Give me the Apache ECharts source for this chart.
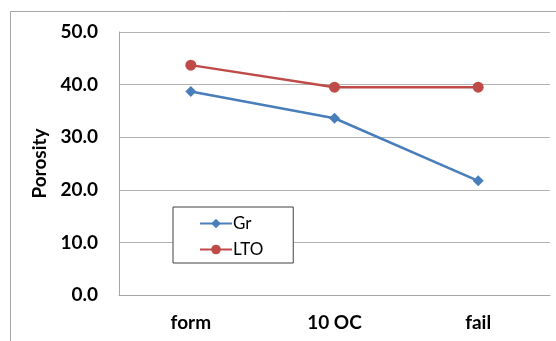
<!DOCTYPE html>
<html>
<head>
<meta charset="utf-8">
<script src="https://cdn.jsdelivr.net/npm/echarts@6/dist/echarts.min.js"></script>
<style>
  html, body { margin: 0; padding: 0; background: #fff; }
  #chart { width: 556px; height: 341px; }
</style>
</head>
<body>
<div id="chart"></div>
<script>
// Porosity by cell state
const categories = ['form', '10 OC', 'fail'];
const grValues = [38.7, 33.6, 21.7];
const ltoValues = [43.7, 39.5, 39.5];
const yTicks = { min: 0, max: 50, interval: 10 };

const chart = echarts.init(document.getElementById('chart'));
const font = 'Lato, "Open Sans", sans-serif';

chart.setOption({
  animation: false,
  backgroundColor: '#ffffff',
  graphic: [{
    type: 'rect',
    shape: { x: 10.5, y: 11.5, width: 560, height: 340 },
    style: { fill: 'none', stroke: '#a6a6a6', lineWidth: 1 },
    silent: true
  }],
  grid: { left: 119, right: 6, top: 32, bottom: 46 },
  legend: {
    orient: 'vertical',
    left: 173,
    top: 207,
    itemWidth: 32,
    itemHeight: 12,
    itemGap: 9,
    padding: [8, 30, 5, 26],
    borderColor: '#404040',
    borderWidth: 1,
    backgroundColor: '#ffffff',
    textStyle: { fontFamily: font, fontSize: 17, color: '#000', padding: [0, 0, 0, -4] },
    data: ['Gr', 'LTO']
  },
  xAxis: {
    type: 'category',
    data: categories,
    boundaryGap: true,
    axisLine: { lineStyle: { color: '#a6a6a6', width: 1 } },
    axisTick: { show: false },
    axisLabel: { fontFamily: font, fontWeight: 'bold', fontSize: 19, color: '#000', margin: 18 }
  },
  yAxis: {
    type: 'value',
    min: yTicks.min,
    max: yTicks.max,
    interval: yTicks.interval,
    name: 'Porosity',
    nameLocation: 'middle',
    nameGap: 63,
    nameRotate: 90,
    nameTextStyle: { fontFamily: font, fontWeight: 'bold', fontSize: 19, color: '#000' },
    axisLine: { show: true, lineStyle: { color: '#a6a6a6', width: 1 } },
    axisTick: { show: false },
    splitLine: { lineStyle: { color: '#b3b3b3', width: 1 } },
    axisLabel: {
      fontFamily: font, fontWeight: 'bold', fontSize: 19, color: '#000', margin: 21,
      formatter: v => v.toFixed(1)
    }
  },
  series: [
    {
      name: 'Gr',
      type: 'line',
      data: grValues,
      symbol: 'diamond',
      symbolSize: 11,
      lineStyle: { color: '#4a7ebb', width: 2.5 },
      itemStyle: { color: '#4a7ebb' }
    },
    {
      name: 'LTO',
      type: 'line',
      data: ltoValues,
      symbol: 'circle',
      symbolSize: 11,
      lineStyle: { color: '#be4b48', width: 2.5 },
      itemStyle: { color: '#be4b48' }
    }
  ]
});
</script>
</body>
</html>
